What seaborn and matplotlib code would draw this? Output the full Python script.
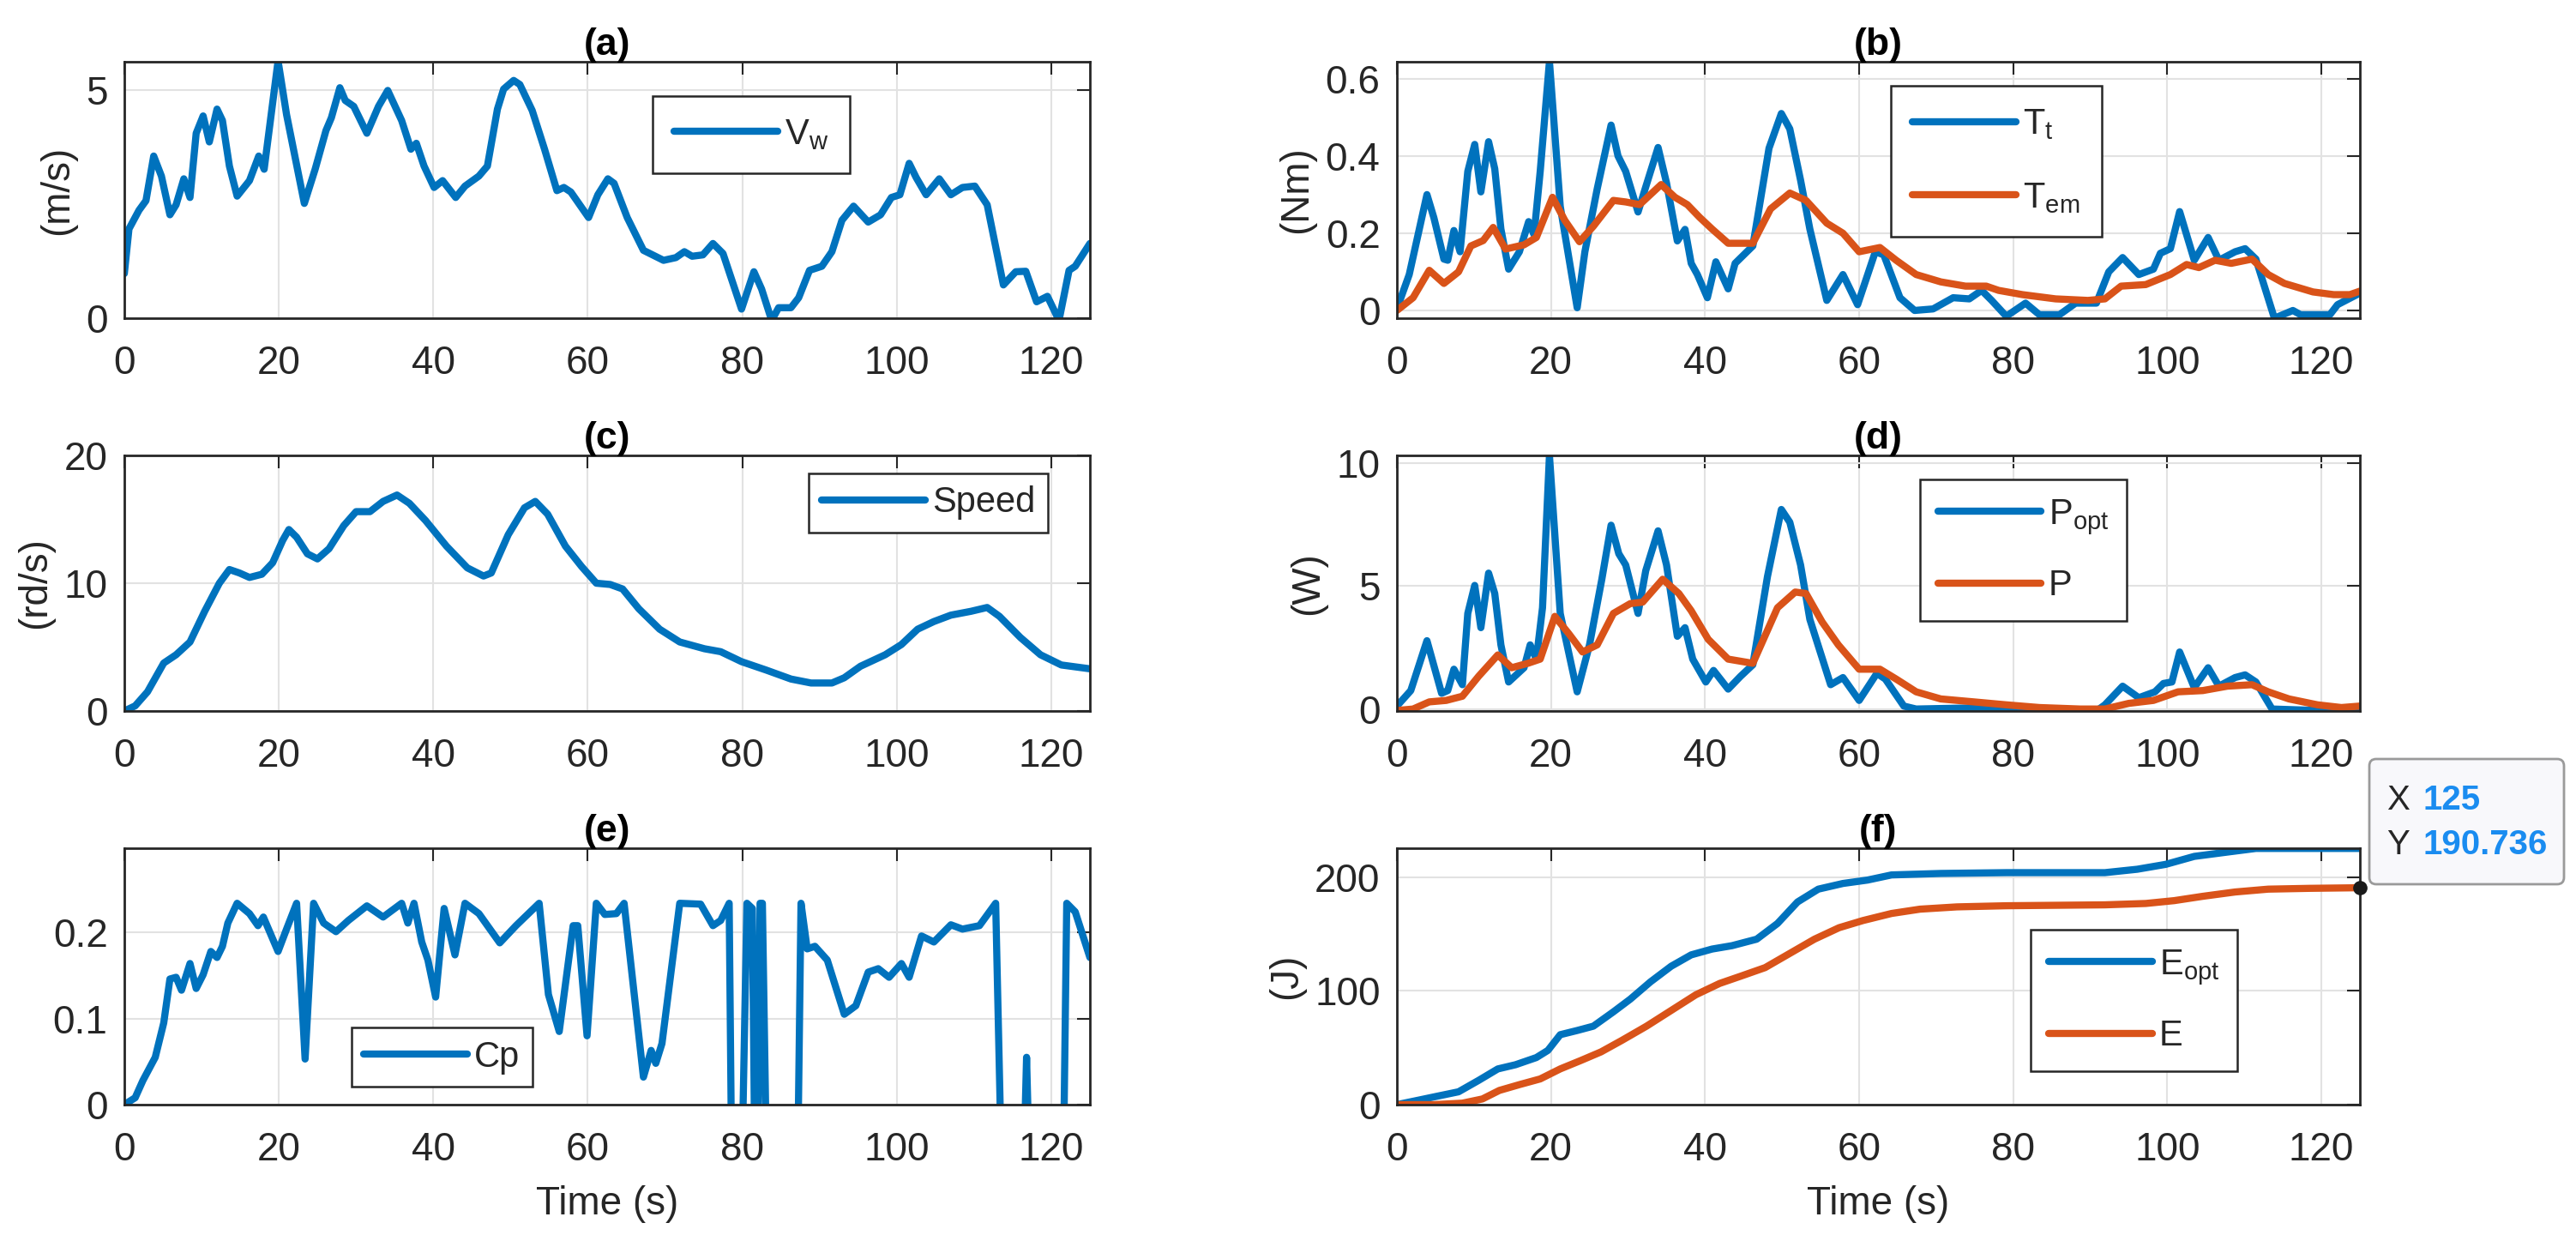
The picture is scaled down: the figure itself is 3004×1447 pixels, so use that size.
import numpy as np
import pandas as pd
import seaborn as sns
import matplotlib.pyplot as plt
from matplotlib.patches import FancyBboxPatch

# ---- data ----
t_vw = [0, 0.6, 1.9, 2.8, 3.8, 4.8, 5.9, 6.7, 7.7, 8.5, 9.3, 10.2, 11.0, 12.0, 12.7, 13.6, 14.6, 16.2,
        17.4, 18.1, 19.9, 21.0, 23.3, 24.7, 26.1, 26.8, 27.9, 28.6, 29.7, 31.4, 32.9, 34.1, 35.9, 37.1,
        37.8, 38.8, 40.1, 41.2, 42.9, 44.1, 45.9, 47.0, 48.3, 49.1, 50.4, 51.2, 52.8, 54.4, 56.0, 56.9,
        57.8, 60.1, 61.3, 62.6, 63.4, 65.1, 67.2, 69.8, 71.4, 72.5, 73.5, 74.9, 76.2, 77.5, 79.9, 81.5,
        82.5, 83.8, 84.7, 86.3, 87.3, 88.7, 90.3, 91.6, 92.9, 94.4, 96.3, 97.9, 99.3, 100.4, 101.6, 102.5,
        103.8, 105.5, 107.0, 108.5, 110.1, 111.7, 113.8, 115.4, 116.7, 118.1, 119.5, 121.0, 122.3, 123.1, 125.0]
vw = [0.98, 1.96, 2.37, 2.58, 3.56, 3.12, 2.27, 2.49, 3.06, 2.65, 4.06, 4.44, 3.87, 4.59, 4.34, 3.34, 2.68, 3.02,
      3.56, 3.27, 5.65, 4.47, 2.52, 3.27, 4.12, 4.40, 5.06, 4.78, 4.65, 4.06, 4.65, 5.00, 4.34, 3.71,
      3.84, 3.34, 2.87, 3.02, 2.65, 2.90, 3.12, 3.34, 4.59, 5.03, 5.22, 5.13, 4.56, 3.71, 2.80, 2.87,
      2.77, 2.21, 2.71, 3.06, 2.96, 2.21, 1.49, 1.27, 1.33, 1.46, 1.36, 1.39, 1.64, 1.42, 0.20, 1.02,
      0.64, -0.05, 0.23, 0.23, 0.45, 1.05, 1.14, 1.46, 2.15, 2.46, 2.11, 2.27, 2.65, 2.71, 3.40, 3.09,
      2.71, 3.06, 2.71, 2.87, 2.90, 2.49, 0.73, 1.02, 1.03, 0.36, 0.48, -0.05, 1.05, 1.14, 1.64]

t_tt = [0, 1.6, 3.9, 4.8, 6.1, 6.6, 7.4, 8.2, 9.2, 10.1, 10.9, 11.9, 12.7, 13.5, 14.5, 15.9, 17.1, 17.8,
        18.6, 19.8, 21.2, 23.4, 24.4, 26.0, 27.8, 28.7, 29.7, 31.3, 32.3, 33.9, 35.0, 36.4, 37.4, 38.2,
        39.0, 40.3, 41.4, 43.0, 43.9, 46.2, 48.3, 49.9, 51.0, 52.4, 53.6, 55.8, 57.9, 59.8, 62.1, 63.2,
        65.3, 67.2, 69.6, 72.2, 74.3, 75.9, 77.2, 79.1, 81.6, 83.4, 86.0, 88.1, 90.8, 92.4, 94.2, 96.3,
        98.2, 99.1, 100.4, 101.6, 103.5, 105.3, 106.7, 108.8, 110.1, 111.5, 113.9, 116.3, 117.3, 121.1,
        122.1, 125.0]
tt = [0.004, 0.093, 0.30, 0.24, 0.133, 0.13, 0.207, 0.152, 0.36, 0.43, 0.307, 0.437, 0.367, 0.211, 0.107,
      0.152, 0.23, 0.196, 0.36, 0.645, 0.27, 0.007, 0.152, 0.315, 0.48, 0.40, 0.36, 0.255, 0.32, 0.422,
      0.33, 0.18, 0.21, 0.122, 0.093, 0.033, 0.126, 0.056, 0.122, 0.167, 0.42, 0.51, 0.47, 0.337, 0.211,
      0.026, 0.093, 0.015, 0.152, 0.144, 0.033, 0.0, 0.004, 0.033, 0.03, 0.052, 0.026, -0.015, 0.019,
      -0.011, -0.011, 0.019, 0.019, 0.10, 0.137, 0.093, 0.107, 0.148, 0.16, 0.256, 0.13, 0.189, 0.13,
      0.152, 0.16, 0.133, -0.02, 0.0, -0.011, -0.011, 0.015, 0.045]

t_tem = [0, 2.1, 4.2, 6.1, 8.0, 9.6, 11.2, 12.5, 14.1, 16.5, 18.1, 20.2, 21.8, 23.7, 25.5, 28.1, 29.7,
         31.5, 34.3, 36.1, 37.7, 39.3, 40.9, 43.0, 46.2, 48.5, 51.0, 53.1, 55.8, 57.9, 60.0, 62.7, 64.8,
         67.4, 70.6, 73.8, 76.5, 78.1, 81.2, 85.5, 89.7, 91.9, 94.0, 97.2, 100.4, 102.5, 104.1, 106.2,
         108.3, 111.0, 113.1, 115.2, 118.9, 121.6, 123.7, 125.0]
tem = [0, 0.033, 0.104, 0.07, 0.10, 0.167, 0.181, 0.215, 0.159, 0.17, 0.189, 0.293, 0.233, 0.178, 0.218,
       0.285, 0.281, 0.274, 0.326, 0.293, 0.274, 0.241, 0.211, 0.174, 0.174, 0.263, 0.304, 0.285, 0.226,
       0.20, 0.152, 0.163, 0.13, 0.093, 0.074, 0.063, 0.063, 0.052, 0.041, 0.03, 0.026, 0.03, 0.063,
       0.067, 0.093, 0.119, 0.111, 0.13, 0.122, 0.133, 0.093, 0.07, 0.048, 0.041, 0.041, 0.05]

t_spd = [0, 1.4, 3.0, 5.1, 6.7, 8.5, 10.4, 12.3, 13.6, 14.9, 16.2, 17.8, 19.2, 20.5, 21.3, 22.3, 23.7,
         25.0, 26.5, 28.4, 30.0, 31.8, 33.5, 35.3, 36.9, 39.0, 41.7, 44.4, 46.5, 47.5, 49.7, 51.8, 53.2,
         54.8, 57.1, 59.2, 61.1, 62.9, 64.5, 66.6, 69.3, 71.9, 75.1, 77.2, 79.9, 83.1, 86.3, 88.9, 91.6,
         93.2, 95.3, 98.5, 100.6, 102.7, 104.8, 107.0, 109.6, 111.7, 113.3, 116.0, 118.6, 121.3, 125.0]
spd = [0, 0.4, 1.5, 3.75, 4.4, 5.4, 7.8, 10.0, 11.07, 10.8, 10.45, 10.7, 11.6, 13.35, 14.2, 13.6, 12.3,
       11.9, 12.7, 14.5, 15.6, 15.6, 16.4, 16.9, 16.25, 14.9, 12.9, 11.2, 10.56, 10.8, 13.8, 15.9, 16.4,
       15.4, 12.9, 11.3, 10.0, 9.9, 9.55, 8.0, 6.4, 5.4, 4.87, 4.64, 3.86, 3.2, 2.5, 2.19, 2.19,
       2.6, 3.5, 4.4, 5.2, 6.4, 7.0, 7.5, 7.8, 8.1, 7.4, 5.75, 4.4, 3.6, 3.3]

t_popt = [0, 1.8, 3.9, 5.8, 6.6, 7.4, 8.5, 9.2, 10.1, 10.9, 11.9, 12.7, 13.5, 14.5, 16.5, 17.3, 18.1,
          18.9, 19.8, 21.2, 23.4, 25.0, 26.6, 27.8, 28.8, 29.7, 31.3, 32.3, 33.9, 35.0, 36.4, 37.4, 38.4,
          40.1, 41.1, 43.0, 44.6, 46.2, 48.1, 49.9, 51.0, 52.4, 53.6, 56.3, 57.9, 60.0, 62.3, 63.4, 65.8,
          67.4, 77.0, 79.1, 90.8, 91.9, 94.2, 96.3, 98.4, 99.5, 100.6, 101.6, 103.5, 105.3, 106.7, 108.8,
          110.1, 111.5, 113.6, 119.5, 122.6, 125.0]
popt = [0.12, 0.75, 2.78, 0.64, 0.75, 1.62, 0.99, 3.89, 5.03, 3.31, 5.53, 4.70, 2.61, 1.10, 1.68, 2.61, 2.03,
        4.12, 10.32, 3.89, 0.70, 2.61, 5.28, 7.48, 6.32, 5.86, 3.89, 5.63, 7.25, 5.86, 2.96, 3.31, 2.03,
        1.10, 1.57, 0.81, 1.33, 1.80, 5.39, 8.12, 7.60, 5.86, 3.65, 0.99, 1.28, 0.35, 1.45, 1.22, 0.12,
        0.0, 0.06, -0.08, -0.08, 0.17, 0.93, 0.46, 0.70, 1.04, 1.10, 2.32, 0.87, 1.68, 0.93, 1.28,
        1.39, 1.10, 0.0, -0.06, 0.0, 0.06]

t_p = [0, 2.1, 4.2, 6.4, 8.5, 10.6, 13.1, 14.9, 17.0, 18.6, 20.5, 22.3, 24.1, 26.0, 28.1, 30.3, 31.9,
       34.5, 36.6, 38.2, 40.4, 43.0, 46.2, 49.4, 51.7, 53.1, 55.2, 57.3, 60.0, 62.7, 64.8, 67.4, 70.6,
       74.9, 79.1, 83.4, 88.7, 91.9, 95.0, 98.2, 101.4, 104.6, 107.8, 111.0, 113.1, 115.8, 119.5, 122.6, 125.0]
p = [-0.06, 0.0, 0.29, 0.35, 0.52, 1.33, 2.20, 1.68, 1.86, 2.03, 3.77, 3.07, 2.32, 2.61, 3.89, 4.29, 4.35,
     5.28, 4.70, 4.00, 2.84, 2.03, 1.86, 4.12, 4.76, 4.70, 3.54, 2.61, 1.62, 1.62, 1.22, 0.70, 0.41,
     0.29, 0.17, 0.06, 0.0, 0.0, 0.23, 0.35, 0.70, 0.75, 0.93, 0.99, 0.70, 0.41, 0.17, 0.06, 0.12]

t_cp = [0, 1.4, 2.4, 4.0, 5.1, 5.9, 6.7, 7.4, 8.5, 9.3, 10.2, 11.2, 12.0, 12.7, 13.4, 14.6, 16.2, 17.3,
        18.0, 19.9, 21.0, 22.3, 23.4, 24.5, 25.8, 27.4, 29.0, 31.4, 33.5, 35.9, 36.7, 37.5, 38.5, 39.3,
        40.3, 41.4, 42.8, 44.1, 45.9, 48.6, 50.7, 53.7, 54.9, 56.3, 58.1, 58.7, 59.9, 61.1, 62.2, 63.7,
        64.7, 67.2, 68.2, 68.8, 69.6, 71.9, 74.6, 76.2, 77.2, 78.3, 78.6, 79.7, 80.0, 80.6, 81.3, 81.6,
        82.0, 82.3, 82.6, 83.1, 87.2, 87.6, 88.4, 89.4, 91.0, 93.2, 94.7, 96.3, 97.6, 99.0, 100.6, 101.6,
        103.2, 104.8, 107.0, 108.5, 110.7, 112.8, 113.5, 116.5, 116.8, 117.1, 121.6, 122.0, 123.1, 125.0]
cp = [0, 0.008, 0.028, 0.055, 0.095, 0.146, 0.148, 0.133, 0.164, 0.135, 0.151, 0.178, 0.171, 0.184, 0.211,
      0.234, 0.222, 0.208, 0.218, 0.178, 0.204, 0.234, 0.053, 0.234, 0.211, 0.201, 0.214, 0.231, 0.218,
      0.234, 0.211, 0.234, 0.189, 0.168, 0.125, 0.228, 0.174, 0.234, 0.222, 0.188, 0.208, 0.234, 0.128,
      0.085, 0.208, 0.208, 0.080, 0.234, 0.221, 0.222, 0.234, 0.032, 0.063, 0.048, 0.071, 0.234, 0.233,
      0.208, 0.214, 0.234, -0.05, -0.05, -0.05, 0.234, 0.228, -0.05, -0.05, 0.234, 0.234, -0.05, -0.05,
      0.234, 0.181, 0.184, 0.168, 0.105, 0.115, 0.154, 0.158, 0.148, 0.164, 0.148, 0.196, 0.189, 0.209,
      0.204, 0.208, 0.234, -0.05, -0.05, 0.055, -0.05, -0.05, 0.234, 0.224, 0.171]

t_eopt = [0, 2.7, 5.3, 8.0, 10.6, 13.1, 15.4, 18.1, 19.6, 21.2, 23.4, 25.5, 28.1, 30.3, 32.9, 35.6, 38.2,
          40.9, 43.5, 46.7, 49.4, 52.0, 54.7, 57.9, 61.1, 64.2, 70.6, 79.1, 91.9, 96.1, 99.8, 103.5, 107.8,
          111.5, 125.0]
eopt = [0, 3.8, 7.5, 11.3, 21.3, 31.4, 35.1, 41.4, 47.7, 61.5, 65.2, 69.0, 81.6, 92.8, 107.9, 121.7, 131.7,
        136.8, 139.8, 145.5, 159.3, 178.2, 189.5, 194.5, 197.5, 202.0, 203.3, 204.0, 204.0, 207.0, 211.3,
        218.3, 222.1, 225.3, 225.3]

t_e = [0, 4.8, 8.5, 11.1, 13.3, 15.9, 18.6, 21.2, 23.9, 26.5, 29.2, 32.4, 35.6, 38.8, 41.9, 44.6, 47.8,
       51.0, 54.2, 57.4, 60.5, 64.2, 67.9, 72.7, 79.1, 91.9, 97.2, 100.9, 104.6, 108.8, 113.1, 118.4, 125.0]
e = [0, 0, 1.3, 5.0, 12.5, 17.6, 22.6, 31.4, 38.9, 46.4, 56.5, 69.0, 82.8, 96.6, 106.6, 112.9, 120.5,
     133.0, 145.5, 155.6, 161.9, 168.1, 171.9, 173.9, 174.9, 175.7, 176.9, 179.4, 183.2, 187.0, 189.5,
     190.2, 190.736]

tip_x = 125
tip_y = 190.736

BLUE = '#0072BD'
ORANGE = '#D95319'
DARK = '#262626'

sns.set_theme(style="whitegrid")
plt.rcParams['font.family'] = ['Liberation Sans', 'DejaVu Sans']
plt.rcParams['mathtext.fontset'] = 'custom'
plt.rcParams['mathtext.rm'] = 'Liberation Sans'
plt.rcParams['mathtext.it'] = 'Liberation Sans:italic'
plt.rcParams['mathtext.bf'] = 'Liberation Sans:bold'

W, H = 3004, 1447
fig = plt.figure(figsize=(W / 100, H / 100), dpi=100)


def make_ax(x0, y0, x1, y1):
    # pixel box (from top-left) -> figure fraction
    return fig.add_axes([x0 / W, 1 - y1 / H, (x1 - x0) / W, (y1 - y0) / H])


def style_ax(ax, ylim, yticks, title, ylabel=None, xlabel=None):
    ax.set_xlim(0, 125)
    ax.set_ylim(*ylim)
    ax.set_xticks(range(0, 121, 20))
    ax.set_yticks(yticks)
    ax.set_yticklabels(['{:g}'.format(v) for v in yticks])
    ax.grid(True, color='#e2e2e2', linewidth=1.5)
    ax.set_axisbelow(True)
    for s in ax.spines.values():
        s.set_color(DARK)
        s.set_linewidth(2)
    ax.tick_params(axis='both', direction='in', length=11, width=1.5, top=True, right=True,
                   colors=DARK, labelsize=33, labelcolor=DARK)
    ax.tick_params(axis='x', pad=22)
    ax.tick_params(axis='y', pad=14)
    ax.set_title(title, fontsize=32, fontweight='bold', color='black', pad=6)
    ax.set_ylabel(ylabel if ylabel else '', fontsize=33, color=DARK, labelpad=8)
    ax.set_xlabel(xlabel if xlabel else '', fontsize=33, color=DARK, labelpad=14)


def add_legend(ax, anchor, pad=0.35, spacing=0.5):
    ax.legend(loc='upper left', bbox_to_anchor=anchor, fontsize=30, frameon=True, fancybox=False,
              framealpha=1, edgecolor=DARK, handlelength=2.9, handletextpad=0.2, borderpad=pad,
              labelspacing=spacing, borderaxespad=0)
    ax.get_legend().get_frame().set_linewidth(1.8)


LW = 6

# (a) wind speed
ax_a = make_ax(145, 72, 1271, 371)
sns.lineplot(x=t_vw, y=vw, ax=ax_a, color=BLUE, linewidth=LW, label=r'$\mathregular{V_w}$',
             sort=False, estimator=None)
style_ax(ax_a, (0, 5.63), [0, 5], '(a)', '(m/s)')
add_legend(ax_a, (0.547, 0.866), pad=0.6)

# (b) torques
ax_b = make_ax(1629, 72, 2752, 371)
sns.lineplot(x=t_tt, y=tt, ax=ax_b, color=BLUE, linewidth=LW, label=r'$\mathregular{T_t}$',
             sort=False, estimator=None)
sns.lineplot(x=t_tem, y=tem, ax=ax_b, color=ORANGE, linewidth=LW, label=r'$\mathregular{T_{em}}$',
             sort=False, estimator=None)
style_ax(ax_b, (-0.02, 0.644), [0, 0.2, 0.4, 0.6], '(b)', '(Nm)')
add_legend(ax_b, (0.513, 0.906), pad=0.6, spacing=1.1)

# (c) rotor speed
ax_c = make_ax(145, 531, 1271, 829)
sns.lineplot(x=t_spd, y=spd, ax=ax_c, color=BLUE, linewidth=LW, label='Speed',
             sort=False, estimator=None)
style_ax(ax_c, (0, 20), [0, 10, 20], '(c)', '(rd/s)')
add_legend(ax_c, (0.709, 0.930))

# (d) power
ax_d = make_ax(1629, 531, 2752, 829)
sns.lineplot(x=t_popt, y=popt, ax=ax_d, color=BLUE, linewidth=LW, label=r'$\mathregular{P_{opt}}$',
             sort=False, estimator=None)
sns.lineplot(x=t_p, y=p, ax=ax_d, color=ORANGE, linewidth=LW, label='P',
             sort=False, estimator=None)
style_ax(ax_d, (-0.08, 10.32), [0, 5, 10], '(d)', '(W)')
add_legend(ax_d, (0.543, 0.906), pad=0.5, spacing=0.9)

# (e) power coefficient
ax_e = make_ax(145, 989, 1271, 1288)
sns.lineplot(x=t_cp, y=cp, ax=ax_e, color=BLUE, linewidth=LW, label='Cp',
             sort=False, estimator=None)
style_ax(ax_e, (0, 0.298), [0, 0.1, 0.2], '(e)', None, 'Time (s)')
add_legend(ax_e, (0.235, 0.301))

# (f) energy
ax_f = make_ax(1629, 989, 2752, 1288)
sns.lineplot(x=t_eopt, y=eopt, ax=ax_f, color=BLUE, linewidth=LW, label=r'$\mathregular{E_{opt}}$',
             sort=False, estimator=None)
sns.lineplot(x=t_e, y=e, ax=ax_f, color=ORANGE, linewidth=LW, label='E',
             sort=False, estimator=None)
style_ax(ax_f, (0, 225.5), [0, 100, 200], '(f)', '(J)', 'Time (s)')
add_legend(ax_f, (0.658, 0.682), pad=0.5, spacing=0.9)

# data tip on E at the last sample
ax_f.plot([tip_x], [tip_y], 'o', color='#1a1a1a', markersize=11, clip_on=False, zorder=10)
box = FancyBboxPatch((27.63, (H - 1031) / 100), 2.27, 1.46,
                     boxstyle='round,pad=0,rounding_size=0.08',
                     transform=fig.dpi_scale_trans, facecolor='#f8f8fb', edgecolor='#9a9a9a',
                     linewidth=2, zorder=20)
fig.patches.append(box)
for label, value, ypix in [('X', '{:g}'.format(tip_x), 933), ('Y', '{:g}'.format(tip_y), 985)]:
    fig.text(2783 / W, 1 - ypix / H, label, fontsize=29, color=DARK, va='center', ha='left', zorder=21)
    fig.text(2825 / W, 1 - ypix / H, value, fontsize=29, fontweight='bold', color='#1a8cf0',
             va='center', ha='left', zorder=21)

fig.savefig('out.png', dpi=100)
